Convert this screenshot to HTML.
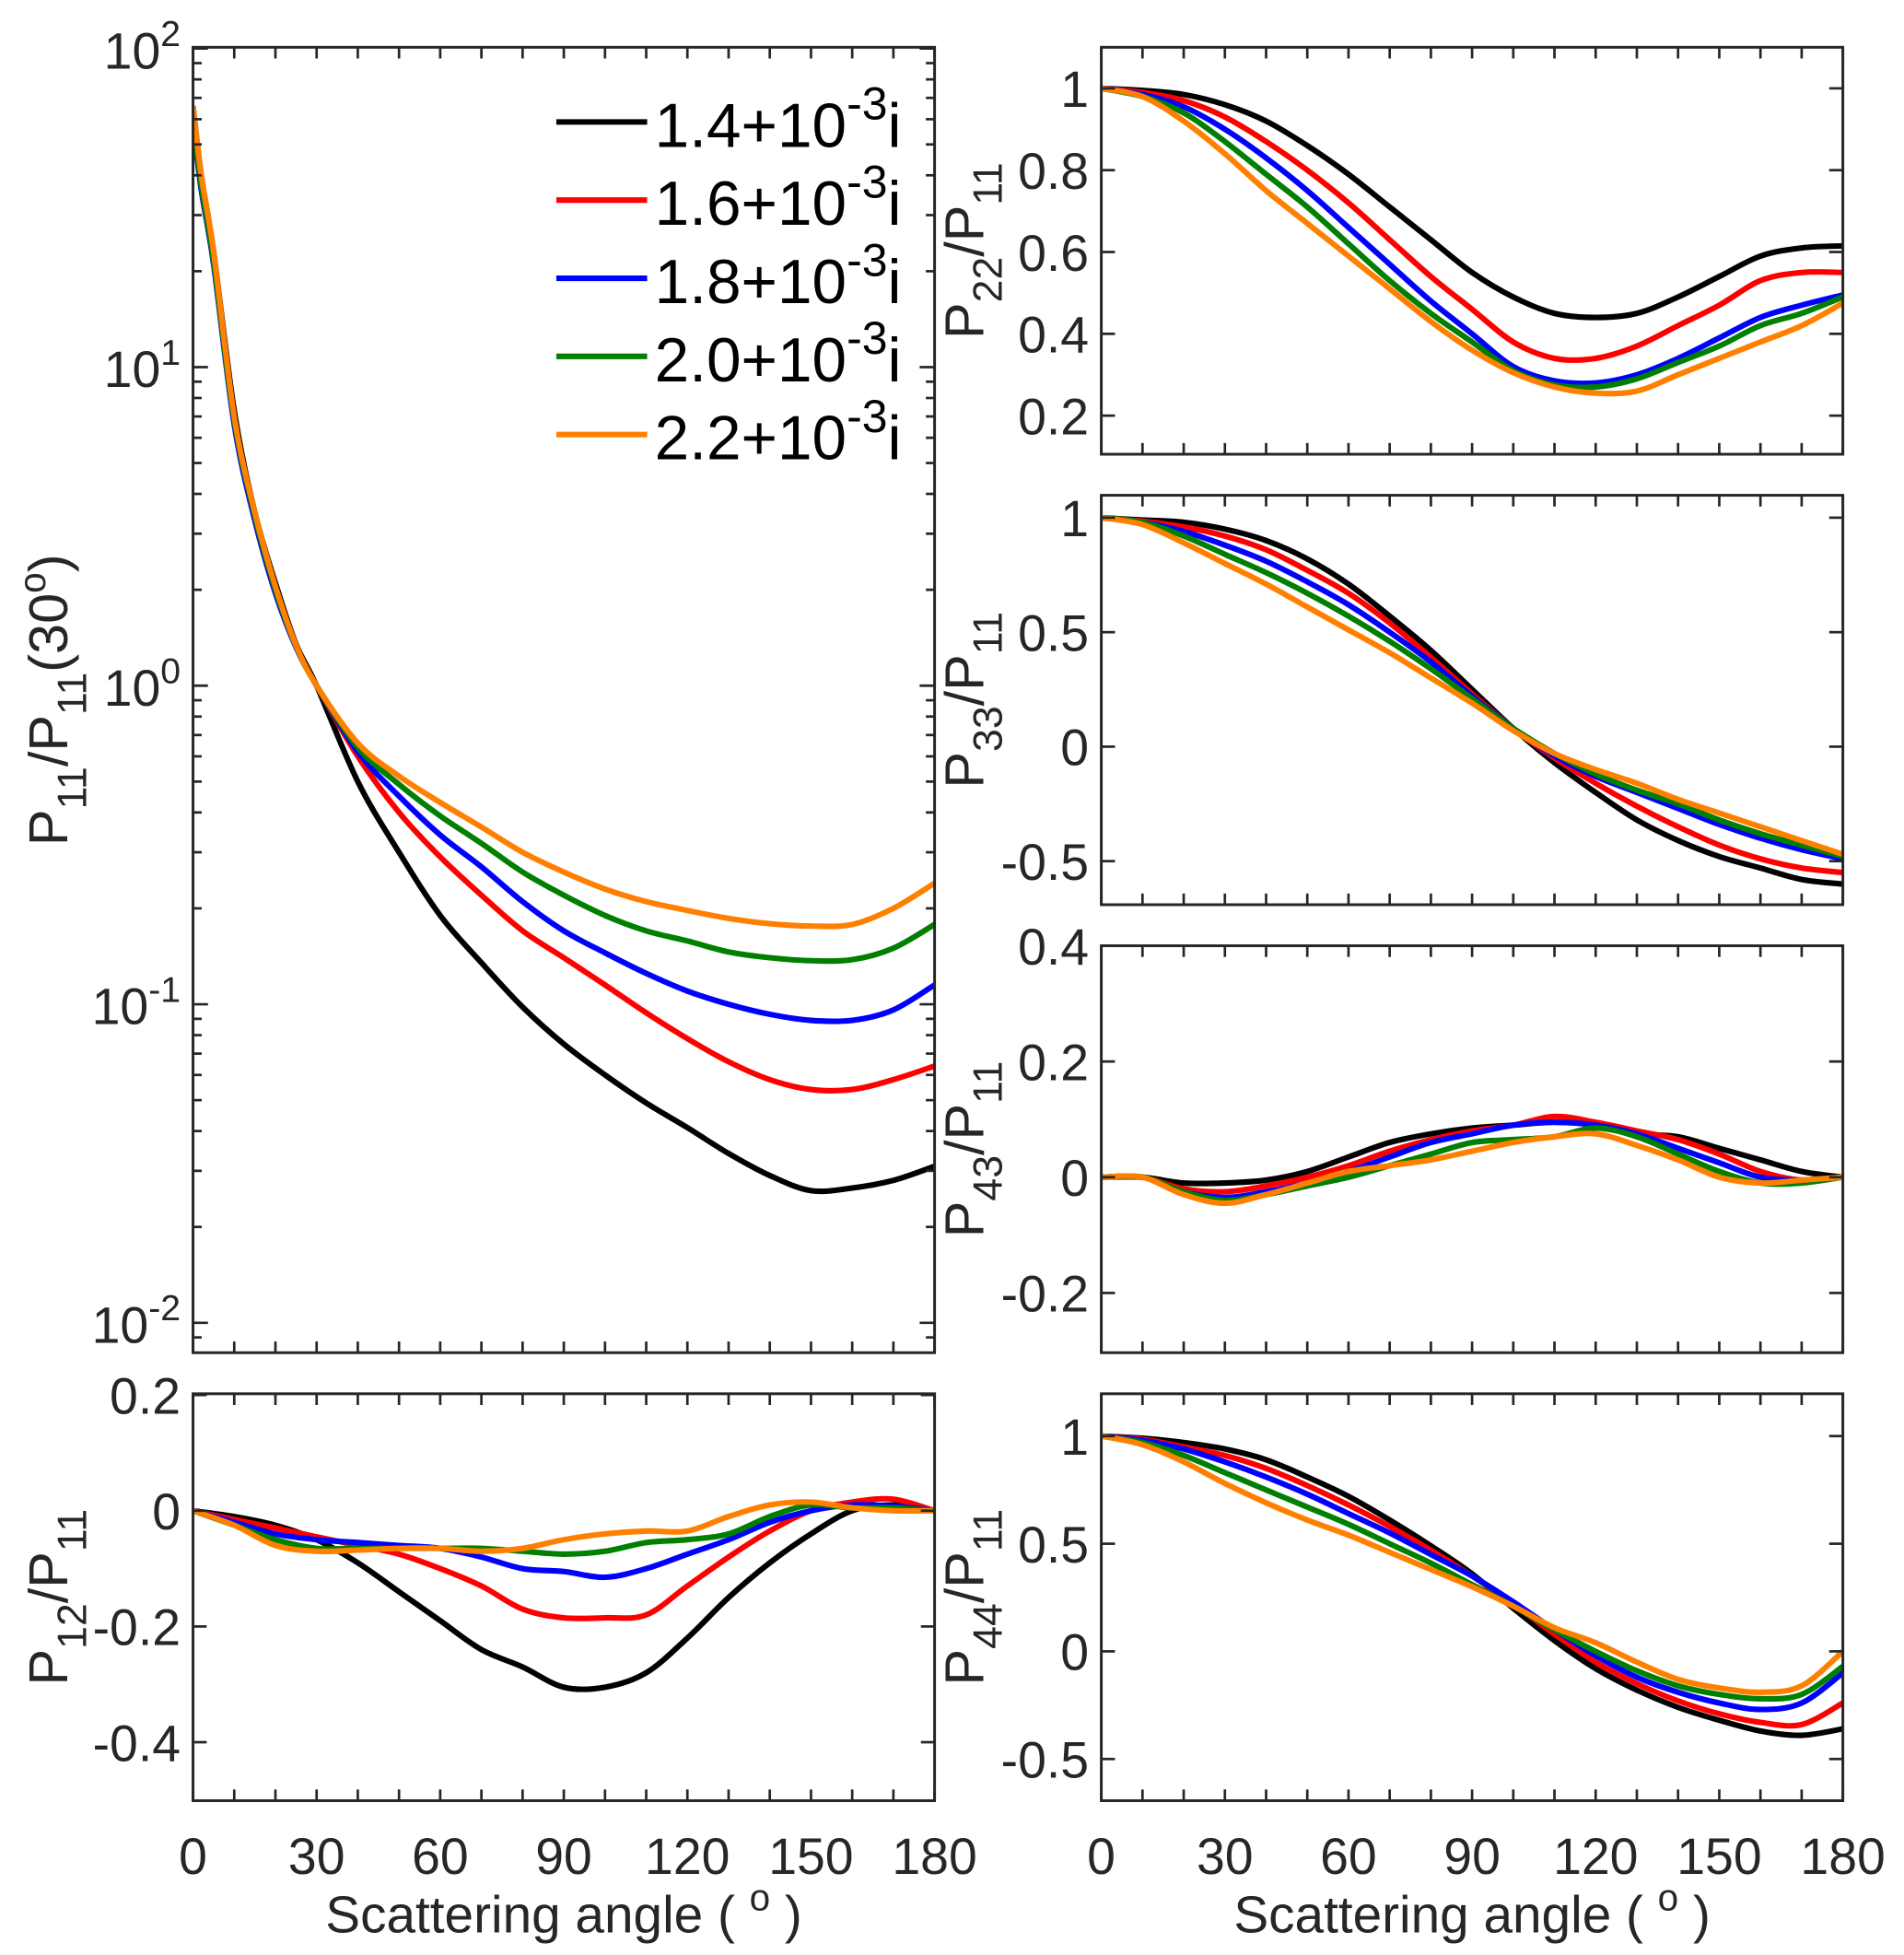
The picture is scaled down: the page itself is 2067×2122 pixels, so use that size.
<!DOCTYPE html>
<html><head><meta charset="utf-8">
<style>
html,body{margin:0;padding:0;background:#fff;}
svg{display:block;}
text{font-family:"Liberation Sans",sans-serif;fill:#262626;}
</style></head>
<body>
<svg id="fig" width="2067" height="2122" viewBox="0 0 1530 1571" xmlns="http://www.w3.org/2000/svg"></svg>
<script>
const angles = [0,10,20,30,40,50,60,70,80,90,100,110,120,130,140,150,160,170,180];
const p11Angles = [0,2,5,10,15,20,25,30,40,50,60,70,80,90,100,110,120,130,140,150,160,170,180];
const seriesNames = ["1.4","1.6","1.8","2.0","2.2"];
const colors = ["#000000","#ff0000","#0000ff","#007f00","#ff8000"];

const p11Black = [66,40,23,7.3,3.5,2.1,1.35,1,0.5,0.3,0.19,0.135,0.098,0.075,0.06,0.049,0.041,0.034,0.029,0.026,0.0265,0.028,0.031];
const p11Red   = [62,38,22,6.9,3.4,2.0,1.33,1,0.6,0.4,0.29,0.22,0.17,0.14,0.115,0.094,0.078,0.066,0.058,0.054,0.054,0.058,0.064];
const p11Blue  = [58,36,21,6.6,3.3,1.95,1.32,1,0.62,0.45,0.34,0.27,0.21,0.17,0.145,0.125,0.11,0.1,0.093,0.089,0.089,0.096,0.115];
const p11Green = [60,37,21.5,6.8,3.4,2.0,1.33,1,0.64,0.49,0.39,0.32,0.26,0.22,0.19,0.17,0.158,0.146,0.14,0.137,0.138,0.15,0.178];
const p11Orange= [66,40,23,7.0,3.5,2.05,1.34,1,0.66,0.52,0.43,0.36,0.30,0.26,0.23,0.21,0.197,0.186,0.179,0.176,0.178,0.2,0.24];

const p12Black = [0,-0.01,-0.025,-0.05,-0.09,-0.14,-0.19,-0.24,-0.27,-0.305,-0.305,-0.28,-0.22,-0.15,-0.09,-0.04,0.0,0.01,0];
const p12Red   = [0,-0.015,-0.03,-0.045,-0.06,-0.075,-0.1,-0.13,-0.17,-0.185,-0.185,-0.18,-0.13,-0.08,-0.035,0.0,0.015,0.02,0];
const p12Blue  = [0,-0.02,-0.04,-0.05,-0.055,-0.06,-0.065,-0.08,-0.1,-0.105,-0.115,-0.1,-0.075,-0.05,-0.02,0.0,0.01,0.008,0];
const p12Green = [0,-0.025,-0.05,-0.065,-0.065,-0.065,-0.065,-0.065,-0.07,-0.075,-0.07,-0.055,-0.05,-0.04,-0.01,0.01,0.005,0.005,0];
const p12Orange= [0,-0.025,-0.06,-0.07,-0.068,-0.065,-0.065,-0.07,-0.065,-0.05,-0.04,-0.035,-0.035,-0.01,0.01,0.015,0.005,0,0];

const p22Black = [1,0.995,0.985,0.96,0.92,0.86,0.79,0.71,0.63,0.55,0.49,0.45,0.44,0.45,0.49,0.54,0.59,0.61,0.615];
const p22Red   = [1,0.99,0.97,0.93,0.87,0.8,0.72,0.63,0.54,0.46,0.38,0.34,0.34,0.37,0.42,0.47,0.53,0.55,0.55];
const p22Blue  = [1,0.985,0.955,0.9,0.83,0.75,0.66,0.57,0.48,0.4,0.32,0.285,0.28,0.3,0.34,0.39,0.44,0.47,0.495];
const p22Green = [1,0.98,0.94,0.87,0.79,0.71,0.62,0.53,0.45,0.38,0.31,0.275,0.27,0.29,0.33,0.37,0.42,0.45,0.49];
const p22Orange= [1,0.98,0.92,0.84,0.75,0.67,0.59,0.51,0.43,0.36,0.305,0.27,0.255,0.26,0.3,0.34,0.38,0.42,0.475];

const p33Black = [1,0.99,0.98,0.95,0.9,0.82,0.71,0.57,0.42,0.25,0.08,-0.07,-0.2,-0.32,-0.41,-0.48,-0.53,-0.58,-0.6];
const p33Red   = [1,0.985,0.96,0.92,0.86,0.77,0.67,0.54,0.39,0.23,0.08,-0.05,-0.16,-0.26,-0.35,-0.43,-0.49,-0.53,-0.55];
const p33Blue  = [1,0.98,0.94,0.88,0.81,0.72,0.62,0.5,0.37,0.22,0.08,-0.04,-0.13,-0.2,-0.27,-0.34,-0.4,-0.45,-0.49];
const p33Green = [1,0.98,0.92,0.84,0.76,0.67,0.57,0.46,0.34,0.21,0.08,-0.03,-0.12,-0.19,-0.25,-0.32,-0.38,-0.43,-0.48];
const p33Orange= [1,0.97,0.89,0.8,0.71,0.61,0.51,0.41,0.3,0.19,0.07,-0.03,-0.1,-0.16,-0.23,-0.29,-0.35,-0.41,-0.47];

const p43Black = [0,0,-0.01,-0.01,-0.005,0.01,0.035,0.06,0.075,0.085,0.09,0.095,0.09,0.075,0.07,0.05,0.03,0.01,0];
const p43Red   = [0,0,-0.02,-0.025,-0.015,0.0,0.02,0.045,0.065,0.08,0.09,0.105,0.095,0.08,0.065,0.04,0.01,-0.005,0];
const p43Blue  = [0,0,-0.025,-0.035,-0.025,-0.01,0.01,0.035,0.06,0.075,0.09,0.095,0.09,0.075,0.05,0.025,0.0,-0.005,0];
const p43Green = [0,0,-0.025,-0.04,-0.03,-0.015,0.0,0.02,0.04,0.06,0.065,0.07,0.085,0.07,0.04,0.01,-0.01,-0.01,0];
const p43Orange= [0,0,-0.03,-0.045,-0.03,-0.01,0.01,0.02,0.03,0.045,0.06,0.07,0.075,0.055,0.03,0.0,-0.01,-0.005,0];

const p44Black = [1,0.99,0.97,0.94,0.89,0.81,0.72,0.61,0.49,0.36,0.2,0.05,-0.08,-0.18,-0.26,-0.32,-0.37,-0.39,-0.36];
const p44Red   = [1,0.985,0.95,0.91,0.85,0.77,0.68,0.58,0.47,0.35,0.22,0.08,-0.05,-0.15,-0.23,-0.29,-0.33,-0.34,-0.24];
const p44Blue  = [1,0.98,0.94,0.88,0.81,0.73,0.64,0.55,0.45,0.35,0.23,0.1,-0.02,-0.12,-0.19,-0.24,-0.27,-0.24,-0.1];
const p44Green = [1,0.97,0.91,0.83,0.75,0.67,0.59,0.5,0.41,0.31,0.21,0.1,0.0,-0.09,-0.16,-0.2,-0.22,-0.2,-0.07];
const p44Orange= [1,0.96,0.88,0.78,0.69,0.61,0.54,0.46,0.38,0.3,0.21,0.11,0.04,-0.05,-0.13,-0.17,-0.19,-0.16,0.0];

const xTickLabels = ["0","30","60","90","120","150","180"];
const p12Ticks = [0.2,0,-0.2,-0.4];
const p22Ticks = [1,0.8,0.6,0.4,0.2];
const p33Ticks = [1,0.5,0,-0.5];
const p43Ticks = [0.4,0.2,0,-0.2];
const p44Ticks = [1,0.5,0,-0.5];
const p11Decades = [2,1,0,-1,-2];

const NS = "http://www.w3.org/2000/svg";
const svg = document.getElementById('fig');
const TICKFS = 41;
function mk(tag, attrs, parent){
  const e = document.createElementNS(NS, tag);
  for (const k in attrs) e.setAttribute(k, attrs[k]);
  (parent||svg).appendChild(e);
  return e;
}
function smoothPath(pts){
  let d = "M"+pts[0][0].toFixed(2)+","+pts[0][1].toFixed(2);
  for (let i=0;i<pts.length-1;i++){
    const p0=pts[Math.max(0,i-1)], p1=pts[i], p2=pts[i+1], p3=pts[Math.min(pts.length-1,i+2)];
    const c1=[p1[0]+(p2[0]-p0[0])/6, p1[1]+(p2[1]-p0[1])/6];
    const c2=[p2[0]-(p3[0]-p1[0])/6, p2[1]-(p3[1]-p1[1])/6];
    d += " C"+c1[0].toFixed(2)+","+c1[1].toFixed(2)+" "+c2[0].toFixed(2)+","+c2[1].toFixed(2)+" "+p2[0].toFixed(2)+","+p2[1].toFixed(2);
  }
  return d;
}

function panel(cfg){
  const g = mk('g', {});
  
  
  const {x0,x1,y0,y1} = cfg;
  const xs = a => x0 + (a/180)*(x1-x0);
  const ys = cfg.ys;
  const cid = cfg.name+"-clip";
  const cp = mk('clipPath',{id:cid},g);
  mk('rect',{x:x0,y:y0,width:x1-x0,height:y1-y0},cp);
  cfg.series.forEach((vals,i)=>{
    const pts = vals.map((v,j)=>[xs(cfg.xa[j]), ys(v)]);
    const p = mk('path',{d:smoothPath(pts),fill:'none',stroke:colors[i],'stroke-width':4.5,'stroke-linejoin':'round','clip-path':'url(#'+cid+')'},g);
    
    
  });
  for (let a=0;a<=180;a+=10){
    const X = xs(a);
    mk('line',{x1:X,y1:y1,x2:X,y2:y1-9,stroke:'#262626','stroke-width':2},g);
    mk('line',{x1:X,y1:y0,x2:X,y2:y0+9,stroke:'#262626','stroke-width':2},g);
  }
  if (cfg.xlabels){
    xTickLabels.forEach(l=>{
      const t = mk('text',{x:xs(+l),y:y1+59,'text-anchor':'middle','font-size':TICKFS},g);
      t.textContent = l;
      
      
    });
    const t = mk('text',{x:(x0+x1)/2,y:y1+106,'text-anchor':'middle','font-size':42},g);
    
    
    t.innerHTML = 'Scattering angle ( <tspan dy="-18" font-size="30">o</tspan><tspan dy="18"> )</tspan>';
  }
  cfg.yticks(g, xs);
  mk('rect',{x:x0,y:y0,width:x1-x0,height:y1-y0,fill:'none',stroke:'#262626','stroke-width':2.2},g);
  const yl = mk('text',{transform:'translate('+cfg.lx+','+((y0+y1)/2)+') rotate(-90)','text-anchor':'middle','font-size':44},g);
  
  
  yl.innerHTML = cfg.label;
  return {xs, ys};
}

function linTicks(ticks, x0, x1, ys){
  return function(g){
    ticks.forEach(v=>{
      const Y = ys(v);
      mk('line',{x1:x0,y1:Y,x2:x0+11,y2:Y,stroke:'#262626','stroke-width':2},g);
      mk('line',{x1:x1,y1:Y,x2:x1-11,y2:Y,stroke:'#262626','stroke-width':2},g);
      const t = mk('text',{x:x0-10,y:Y+15,'text-anchor':'end','font-size':TICKFS},g);
      t.textContent = String(v);
      
      
    });
  };
}
const sub = (s)=>'<tspan dy="15" font-size="33">'+s+'</tspan><tspan dy="-15">';

const lin = (vTop,yTop,vRef,yRef)=> v => yTop + (v - vTop)*(yRef-yTop)/(vRef-vTop);
{
  const x0=155,x1=751,y0=38,y1=1087;
  const ys = v => 551 - Math.log10(v)*256;
  panel({name:'p11-panel',x0,x1,y0,y1,ys,xa:p11Angles,
    series:[p11Black,p11Red,p11Blue,p11Green,p11Orange],
    lx:54,
    label:'P'+sub('11')+'/P</tspan>'+sub('11')+'(30</tspan><tspan dy="-18" font-size="30">o</tspan><tspan dy="18">)</tspan>',
    yticks:function(g){
      for (let d=-3; d<=2; d++){
        for (let m=1;m<=9;m++){
          const v = m*Math.pow(10,d);
          const Y = ys(v);
          if (Y<y0-0.5 || Y>y1+0.5) continue;
          const L = m===1?12:7;
          mk('line',{x1:x0,y1:Y,x2:x0+L,y2:Y,stroke:'#262626','stroke-width':2},g);
          mk('line',{x1:x1,y1:Y,x2:x1-L,y2:Y,stroke:'#262626','stroke-width':2},g);
        }
      }
      p11Decades.forEach(d=>{
        const t = mk('text',{x:x0-10,y:ys(Math.pow(10,d))+16,'text-anchor':'end','font-size':TICKFS},g);
        
        
        t.innerHTML = '10<tspan dy="-18" font-size="29">'+d+'</tspan>';
      });
    }});
  const lg = mk('g',{});
  
  
  seriesNames.forEach((n,i)=>{
    const Y = 98 + i*62.8;
    const ln = mk('line',{x1:447,y1:Y,x2:520,y2:Y,stroke:colors[i],'stroke-width':4.5},lg);
    
    
    const t = mk('text',{x:526,y:Y+20,'font-size':50,style:'fill:#000'},lg);
    
    
    t.innerHTML = n+'+10<tspan dy="-22" font-size="37">-3</tspan><tspan dy="22">i</tspan>';
  });
}
{
  const x0=155,x1=751,y0=1120,y1=1447;
  const ys = lin(0,1214,-0.2,1307);
  panel({name:'p12-panel',x0,x1,y0,y1,ys,xa:angles,xlabels:true,
    series:[p12Black,p12Red,p12Blue,p12Green,p12Orange],lx:54,
    label:'P'+sub('12')+'/P</tspan>'+sub('11')+'</tspan>',
    yticks:linTicks(p12Ticks,x0,x1,ys)});
}
const rx0=885, rx1=1481;
{
  const y0=38,y1=365, ys = lin(1,71,0.2,334);
  panel({name:'p22-panel',x0:rx0,x1:rx1,y0,y1,ys,xa:angles,
    series:[p22Black,p22Red,p22Blue,p22Green,p22Orange],lx:790,
    label:'P'+sub('22')+'/P</tspan>'+sub('11')+'</tspan>',
    yticks:linTicks(p22Ticks,rx0,rx1,ys)});
}
{
  const y0=398,y1=727, ys = lin(1,416,0,600);
  panel({name:'p33-panel',x0:rx0,x1:rx1,y0,y1,ys,xa:angles,
    series:[p33Black,p33Red,p33Blue,p33Green,p33Orange],lx:790,
    label:'P'+sub('33')+'/P</tspan>'+sub('11')+'</tspan>',
    yticks:linTicks(p33Ticks,rx0,rx1,ys)});
}
{
  const y0=760,y1=1087, ys = lin(0.4,760,0,946);
  panel({name:'p43-panel',x0:rx0,x1:rx1,y0,y1,ys,xa:angles,
    series:[p43Black,p43Red,p43Blue,p43Green,p43Orange],lx:790,
    label:'P'+sub('43')+'/P</tspan>'+sub('11')+'</tspan>',
    yticks:linTicks(p43Ticks,rx0,rx1,ys)});
}
{
  const y0=1120,y1=1447, ys = lin(1,1154,0,1327);
  panel({name:'p44-panel',x0:rx0,x1:rx1,y0,y1,ys,xa:angles,xlabels:true,
    series:[p44Black,p44Red,p44Blue,p44Green,p44Orange],lx:790,
    label:'P'+sub('44')+'/P</tspan>'+sub('11')+'</tspan>',
    yticks:linTicks(p44Ticks,rx0,rx1,ys)});
}
</script>
</body></html>
